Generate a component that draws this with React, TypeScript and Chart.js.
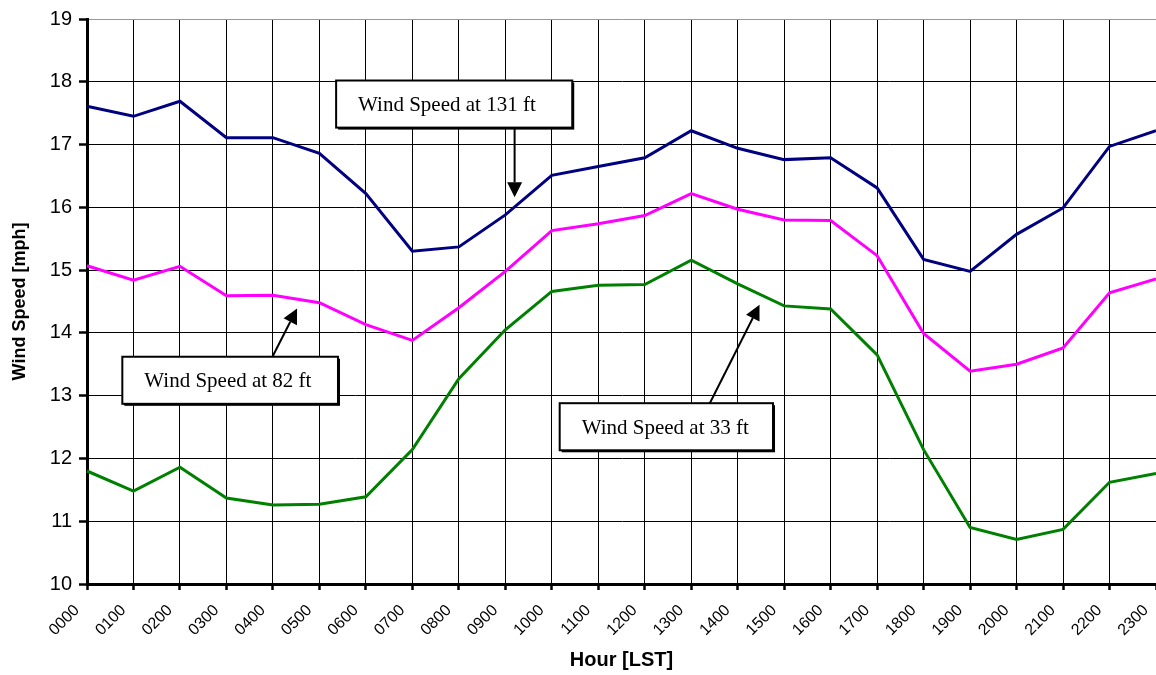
import React, { useEffect, useRef } from "react";
import { Chart, registerables } from "chart.js";

Chart.register(...registerables);

const hours = [
  "0000", "0100", "0200", "0300", "0400", "0500", "0600", "0700",
  "0800", "0900", "1000", "1100", "1200", "1300", "1400", "1500",
  "1600", "1700", "1800", "1900", "2000", "2100", "2200", "2300",
];

const speed131 = [
  17.61, 17.45, 17.69, 17.11, 17.11, 16.86, 16.22, 15.30, 15.37, 15.88, 16.51, 16.65,
  16.79, 17.22, 16.94, 16.76, 16.79, 16.31, 15.17, 14.98, 15.57, 15.99, 16.97, 17.22,
];
const speed82 = [
  15.07, 14.84, 15.06, 14.59, 14.60, 14.48, 14.13, 13.88, 14.40, 14.98, 15.63, 15.74,
  15.87, 16.22, 15.97, 15.80, 15.79, 15.23, 13.99, 13.39, 13.50, 13.76, 14.64, 14.86,
];
const speed33 = [
  11.80, 11.48, 11.86, 11.37, 11.26, 11.27, 11.39, 12.14, 13.27, 14.05, 14.66, 14.76,
  14.77, 15.16, 14.78, 14.43, 14.38, 13.65, 12.14, 10.90, 10.71, 10.87, 11.62, 11.76,
];

const seriesNames = ["Wind Speed at 131 ft", "Wind Speed at 82 ft", "Wind Speed at 33 ft"];
const seriesColors = ["#000080", "#FF00FF", "#008000"];

const yMin = 10;
const yMax = 19;

// Callout boxes in data units: [xLeft, xRight, yTop, yBottom]
const calloutBoxes = [
  [5.36, 10.44, 18.02, 17.27],
  [0.76, 5.40, 13.62, 12.87],
  [10.17, 14.76, 12.88, 12.13],
];
// Callout arrows in data units: [xFrom, yFrom, xTo, yTo]
const calloutArrows = [
  [9.2, 17.27, 9.2, 16.16],
  [3.99, 13.62, 4.52, 14.39],
  [13.4, 12.88, 14.47, 14.45],
];

const calloutPlugin = {
  id: "callouts",
  afterDraw(chart: any) {
    const { ctx, scales } = chart;
    const xs = scales.x;
    const ys = scales.y;
    ctx.save();
    calloutArrows.forEach((a) => {
      const x1 = xs.getPixelForValue(a[0]);
      const y1 = ys.getPixelForValue(a[1]);
      const x2 = xs.getPixelForValue(a[2]);
      const y2 = ys.getPixelForValue(a[3]);
      const ang = Math.atan2(y2 - y1, x2 - x1);
      const headLen = 15;
      const headHalf = 7.5;
      const bx = x2 - headLen * Math.cos(ang);
      const by = y2 - headLen * Math.sin(ang);
      ctx.strokeStyle = "#000";
      ctx.lineWidth = 2;
      ctx.beginPath();
      ctx.moveTo(x1, y1);
      ctx.lineTo(bx, by);
      ctx.stroke();
      ctx.fillStyle = "#000";
      ctx.beginPath();
      ctx.moveTo(x2, y2);
      ctx.lineTo(bx + headHalf * Math.sin(ang), by - headHalf * Math.cos(ang));
      ctx.lineTo(bx - headHalf * Math.sin(ang), by + headHalf * Math.cos(ang));
      ctx.closePath();
      ctx.fill();
    });
    calloutBoxes.forEach((b, i) => {
      const l = xs.getPixelForValue(b[0]);
      const r = xs.getPixelForValue(b[1]);
      const t = ys.getPixelForValue(b[2]);
      const bt = ys.getPixelForValue(b[3]);
      ctx.fillStyle = "#000";
      ctx.fillRect(l + 2, t + 2, r - l, bt - t);
      ctx.fillStyle = "#fff";
      ctx.fillRect(l, t, r - l, bt - t);
      ctx.strokeStyle = "#000";
      ctx.lineWidth = 2;
      ctx.strokeRect(l, t, r - l, bt - t);
      ctx.fillStyle = "#000";
      ctx.font = '21px "Liberation Serif", "Times New Roman", serif';
      ctx.textAlign = "left";
      ctx.textBaseline = "alphabetic";
      ctx.fillText(seriesNames[i], l + 22, (t + bt) / 2 + 7);
    });
    ctx.restore();
  },
};

export default function App() {
  const canvasRef = useRef<HTMLCanvasElement | null>(null);

  useEffect(() => {
    const canvas = canvasRef.current;
    if (!canvas) return;
    const sans = '"Liberation Sans", Arial, sans-serif';
    const chart = new Chart(canvas, {
      type: "line",
      data: {
        labels: hours,
        datasets: [speed131, speed82, speed33].map((d, i) => ({
          label: seriesNames[i],
          data: d,
          borderColor: seriesColors[i],
          backgroundColor: seriesColors[i],
          borderWidth: 3,
          pointRadius: 0,
          tension: 0,
          fill: false,
        })),
      },
      options: {
        responsive: false,
        animation: false,
        layout: { padding: { top: 16, right: 0, left: 0, bottom: 0 } },
        plugins: {
          legend: { display: false },
          tooltip: { enabled: false },
        },
        scales: {
          x: {
            type: "category",
            offset: false,
            afterFit: (scale: any) => {
              scale.height = 91;
              scale.paddingLeft = 0;
              scale.paddingRight = 0;
            },
            grid: {
              color: "#000",
              lineWidth: 1,
              tickLength: 6,
              tickWidth: 2.5,
              tickColor: "#000",
              offset: false,
            },
            border: { display: true, color: "#000", width: 3 },
            ticks: {
              autoSkip: false,
              maxRotation: 45,
              minRotation: 45,
              padding: 11,
              labelOffset: -10,
              color: "#000",
              font: { family: sans, size: 16 },
            },
            title: {
              display: true,
              text: "Hour [LST]",
              color: "#000",
              font: { family: sans, size: 20, weight: "bold" },
              padding: { top: 0, bottom: 3 },
            },
          },
          y: {
            min: yMin,
            max: yMax,
            afterFit: (scale: any) => {
              scale.width = 87;
            },
            grid: {
              color: (c: any) => (c.tick && c.tick.value === yMax ? "#999" : "#000"),
              lineWidth: 1,
              tickLength: 8,
              tickWidth: 2.5,
              tickColor: "#000",
            },
            border: { display: true, color: "#000", width: 3 },
            ticks: {
              stepSize: 1,
              padding: 7,
              color: "#000",
              font: { family: sans, size: 20 },
            },
            title: {
              display: true,
              text: "Wind Speed [mph]",
              color: "#000",
              font: { family: sans, size: 18, weight: "bold" },
              padding: { top: 9, bottom: 0 },
            },
          },
        },
      },
      plugins: [calloutPlugin],
    });
    return () => chart.destroy();
  }, []);

  return (
    <div style={{ position: "absolute", left: 0, top: 0, width: 1156, height: 675, background: "#fff" }}>
      <canvas ref={canvasRef} width={1156} height={675} style={{ display: "block", width: 1156, height: 675 }} />
    </div>
  );
}
